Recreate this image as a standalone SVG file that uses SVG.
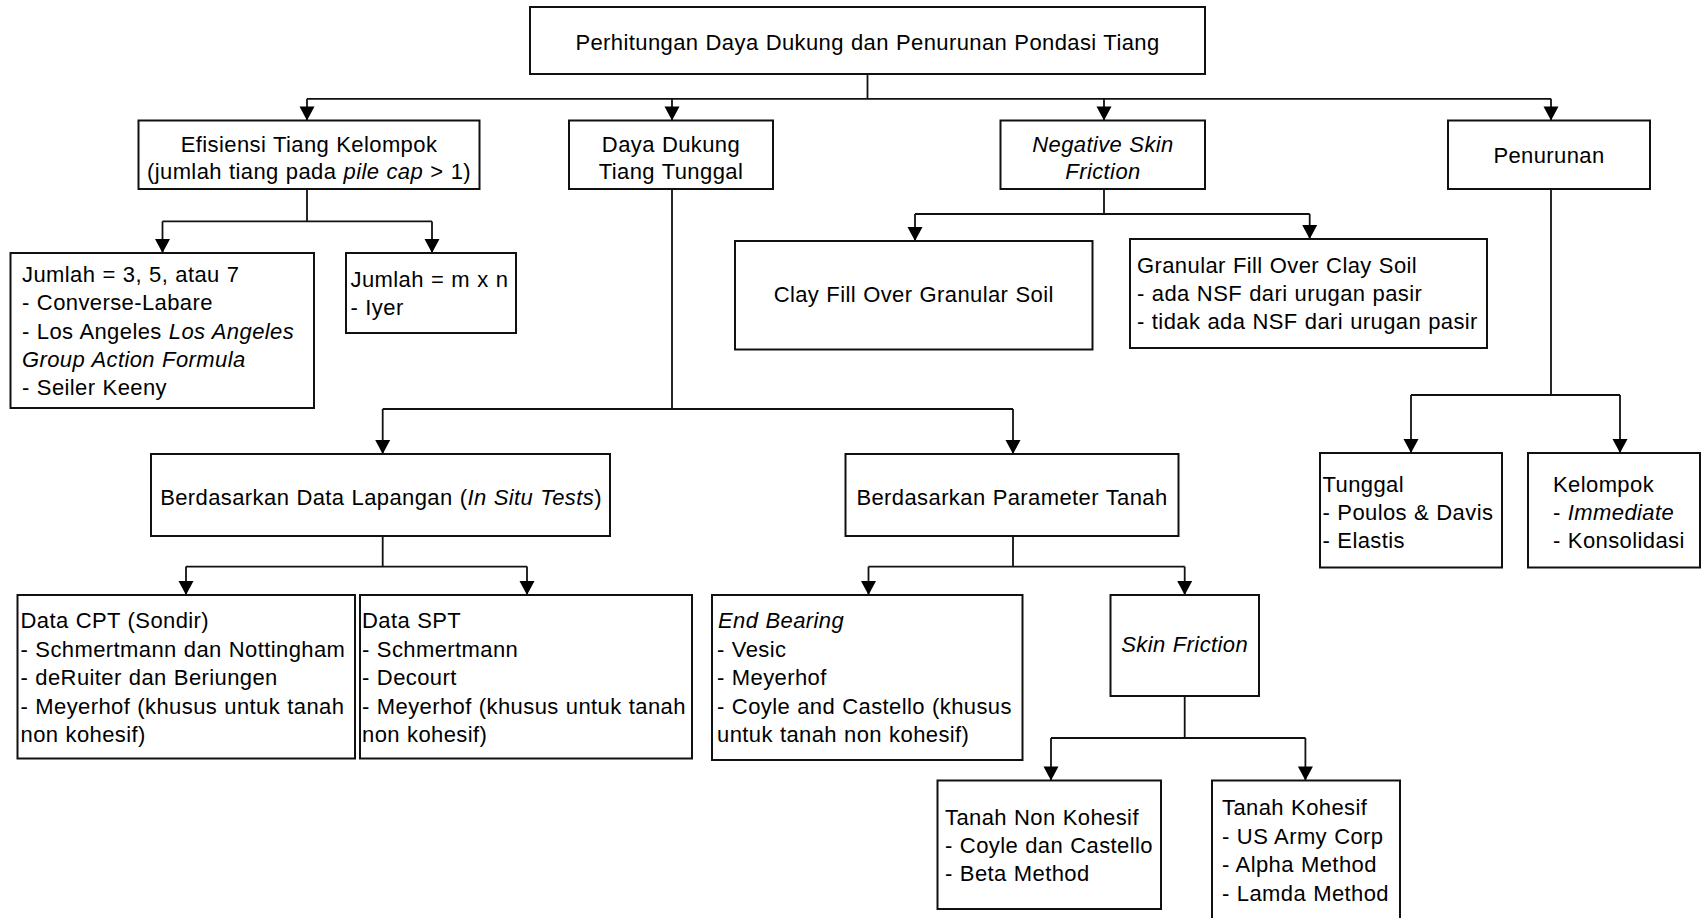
<svg xmlns="http://www.w3.org/2000/svg" width="1702" height="918" viewBox="0 0 1702 918">
<style>
.box{fill:#fff;stroke:#111;stroke-width:2}
.t{font-family:"Liberation Sans",Arial,sans-serif;font-size:22px;fill:#000;letter-spacing:0.4px;word-spacing:0.6px}
.c{text-anchor:middle}
.i{font-style:italic}
.ln{fill:none;stroke:#111;stroke-width:1.8}
</style>
<rect width="1702" height="918" fill="#fff"/>
<g id="connectors">
<path class="ln" d="M867.5 74 V98.8 M307 98.8 H1551"/>
<path class="ln" d="M307 98.8 V120.5"/>
<path class="ln" d="M672 98.8 V120.5"/>
<path class="ln" d="M1104 98.8 V120.5"/>
<path class="ln" d="M1551 98.8 V120.5"/>
<path class="ln" d="M307 189 V221.4 M162.5 221.4 H432"/>
<path class="ln" d="M162.5 221.4 V253"/>
<path class="ln" d="M432 221.4 V253"/>
<path class="ln" d="M672 189 V409 M382.7 409 H1013"/>
<path class="ln" d="M382.7 409 V454"/>
<path class="ln" d="M1013 409 V454"/>
<path class="ln" d="M1104 189 V214 M915 214 H1309.7"/>
<path class="ln" d="M915 214 V241"/>
<path class="ln" d="M1309.7 214 V239"/>
<path class="ln" d="M1551 189 V395 M1411 395 H1620"/>
<path class="ln" d="M1411 395 V453"/>
<path class="ln" d="M1620 395 V453"/>
<path class="ln" d="M382.7 536 V566.6 M186 566.6 H527"/>
<path class="ln" d="M186 566.6 V595"/>
<path class="ln" d="M527 566.6 V595"/>
<path class="ln" d="M1013 536 V566.6 M868.5 566.6 H1184.7"/>
<path class="ln" d="M868.5 566.6 V595"/>
<path class="ln" d="M1184.7 566.6 V595"/>
<path class="ln" d="M1184.7 696 V738 M1051 738 H1305.4"/>
<path class="ln" d="M1051 738 V780.5"/>
<path class="ln" d="M1305.4 738 V780.5"/>
</g>
<g id="arrowheads" fill="#000">
<path d="M299.5 106.5 H314.5 L307 120.5 Z"/>
<path d="M664.5 106.5 H679.5 L672 120.5 Z"/>
<path d="M1096.5 106.5 H1111.5 L1104 120.5 Z"/>
<path d="M1543.5 106.5 H1558.5 L1551 120.5 Z"/>
<path d="M155 239 H170 L162.5 253 Z"/>
<path d="M424.5 239 H439.5 L432 253 Z"/>
<path d="M375.2 440 H390.2 L382.7 454 Z"/>
<path d="M1005.5 440 H1020.5 L1013 454 Z"/>
<path d="M907.5 227 H922.5 L915 241 Z"/>
<path d="M1302.2 225 H1317.2 L1309.7 239 Z"/>
<path d="M1403.5 439 H1418.5 L1411 453 Z"/>
<path d="M1612.5 439 H1627.5 L1620 453 Z"/>
<path d="M178.5 581 H193.5 L186 595 Z"/>
<path d="M519.5 581 H534.5 L527 595 Z"/>
<path d="M861 581 H876 L868.5 595 Z"/>
<path d="M1177.2 581 H1192.2 L1184.7 595 Z"/>
<path d="M1043.5 766.5 H1058.5 L1051 780.5 Z"/>
<path d="M1297.9 766.5 H1312.9 L1305.4 780.5 Z"/>
</g>
<g id="root">
<rect class="box" x="530" y="7" width="675" height="67"/>
<text class="t c" x="867.5" y="50">Perhitungan Daya Dukung dan Penurunan Pondasi Tiang</text>
</g>
<g id="efisiensi">
<rect class="box" x="138.5" y="120.5" width="341" height="68.5"/>
<text class="t c" x="309" y="151.5">Efisiensi Tiang Kelompok</text>
<text class="t c" x="309" y="178.5">(jumlah tiang pada <tspan class="i">pile cap</tspan> &gt; 1)</text>
</g>
<g id="daya-dukung">
<rect class="box" x="569" y="120.5" width="204" height="68.5"/>
<text class="t c" x="671" y="151.5">Daya Dukung</text>
<text class="t c" x="671" y="178.5">Tiang Tunggal</text>
</g>
<g id="nsf">
<rect class="box" x="1000.5" y="120.5" width="204.5" height="68.5"/>
<text class="t c i" x="1103" y="151.5">Negative Skin</text>
<text class="t c i" x="1103" y="178.5">Friction</text>
</g>
<g id="penurunan">
<rect class="box" x="1448" y="120.5" width="202" height="68.5"/>
<text class="t c" x="1549" y="163">Penurunan</text>
</g>
<g id="jumlah-357">
<rect class="box" x="10.5" y="253" width="303.5" height="155"/>
<text class="t" x="22" y="282">Jumlah = 3, 5, atau 7</text>
<text class="t" x="22" y="310.3">- Converse-Labare</text>
<text class="t" x="22" y="338.6">- Los Angeles <tspan class="i">Los Angeles</tspan></text>
<text class="t i" x="22" y="366.9">Group Action Formula</text>
<text class="t" x="22" y="395.2">- Seiler Keeny</text>
</g>
<g id="jumlah-mxn">
<rect class="box" x="346" y="253" width="170" height="80"/>
<text class="t" x="350.5" y="286.5">Jumlah = m x n</text>
<text class="t" x="350.5" y="314.8">- Iyer</text>
</g>
<g id="clay-fill">
<rect class="box" x="735" y="241" width="357.5" height="108.5"/>
<text class="t c" x="913.7" y="302">Clay Fill Over Granular Soil</text>
</g>
<g id="granular-fill">
<rect class="box" x="1130" y="239" width="357" height="109"/>
<text class="t" x="1137" y="273.3">Granular Fill Over Clay Soil</text>
<text class="t" x="1137" y="301.3">- ada NSF dari urugan pasir</text>
<text class="t" x="1137" y="329.3">- tidak ada NSF dari urugan pasir</text>
</g>
<g id="data-lapangan">
<rect class="box" x="151" y="454" width="459" height="82"/>
<text class="t c" x="381" y="505">Berdasarkan Data Lapangan (<tspan class="i">In Situ Tests</tspan>)</text>
</g>
<g id="parameter-tanah">
<rect class="box" x="845.5" y="454" width="333" height="82"/>
<text class="t c" x="1012" y="505">Berdasarkan Parameter Tanah</text>
</g>
<g id="data-cpt">
<rect class="box" x="17.5" y="595" width="337.5" height="163.5"/>
<text class="t" x="20.5" y="628.3">Data CPT (Sondir)</text>
<text class="t" x="20.5" y="656.8">- Schmertmann dan Nottingham</text>
<text class="t" x="20.5" y="685.3">- deRuiter dan Beriungen</text>
<text class="t" x="20.5" y="713.8">- Meyerhof (khusus untuk tanah</text>
<text class="t" x="20.5" y="742.3">non kohesif)</text>
</g>
<g id="data-spt">
<rect class="box" x="360" y="595" width="332" height="163.5"/>
<text class="t" x="362" y="628.3">Data SPT</text>
<text class="t" x="362" y="656.8">- Schmertmann</text>
<text class="t" x="362" y="685.3">- Decourt</text>
<text class="t" x="362" y="713.8">- Meyerhof (khusus untuk tanah</text>
<text class="t" x="362" y="742.3">non kohesif)</text>
</g>
<g id="end-bearing">
<rect class="box" x="712" y="595" width="310.5" height="165"/>
<text class="t i" x="718" y="628.3">End Bearing</text>
<text class="t" x="717" y="656.8">- Vesic</text>
<text class="t" x="717" y="685.3">- Meyerhof</text>
<text class="t" x="717" y="713.8">- Coyle and Castello (khusus</text>
<text class="t" x="717" y="742.3">untuk tanah non kohesif)</text>
</g>
<g id="skin-friction">
<rect class="box" x="1110.5" y="595" width="148.5" height="101"/>
<text class="t c i" x="1184.7" y="651.7">Skin Friction</text>
</g>
<g id="tanah-non-kohesif">
<rect class="box" x="937.5" y="780.5" width="223.5" height="128.5"/>
<text class="t" x="945" y="825">Tanah Non Kohesif</text>
<text class="t" x="945" y="853">- Coyle dan Castello</text>
<text class="t" x="945" y="881">- Beta Method</text>
</g>
<g id="tanah-kohesif">
<rect class="box" x="1212" y="780.5" width="188" height="150"/>
<text class="t" x="1222" y="815">Tanah Kohesif</text>
<text class="t" x="1222" y="843.5">- US Army Corp</text>
<text class="t" x="1222" y="872">- Alpha Method</text>
<text class="t" x="1222" y="900.5">- Lamda Method</text>
</g>
<g id="tunggal">
<rect class="box" x="1320" y="453" width="182" height="114.5"/>
<text class="t" x="1322.5" y="491.7">Tunggal</text>
<text class="t" x="1322.5" y="519.7">- Poulos &amp; Davis</text>
<text class="t" x="1322.5" y="547.7">- Elastis</text>
</g>
<g id="kelompok">
<rect class="box" x="1528" y="453" width="172" height="114.5"/>
<text class="t" x="1553" y="491.7">Kelompok</text>
<text class="t" x="1553" y="519.7">- <tspan class="i">Immediate</tspan></text>
<text class="t" x="1553" y="547.7">- Konsolidasi</text>
</g>
</svg>
